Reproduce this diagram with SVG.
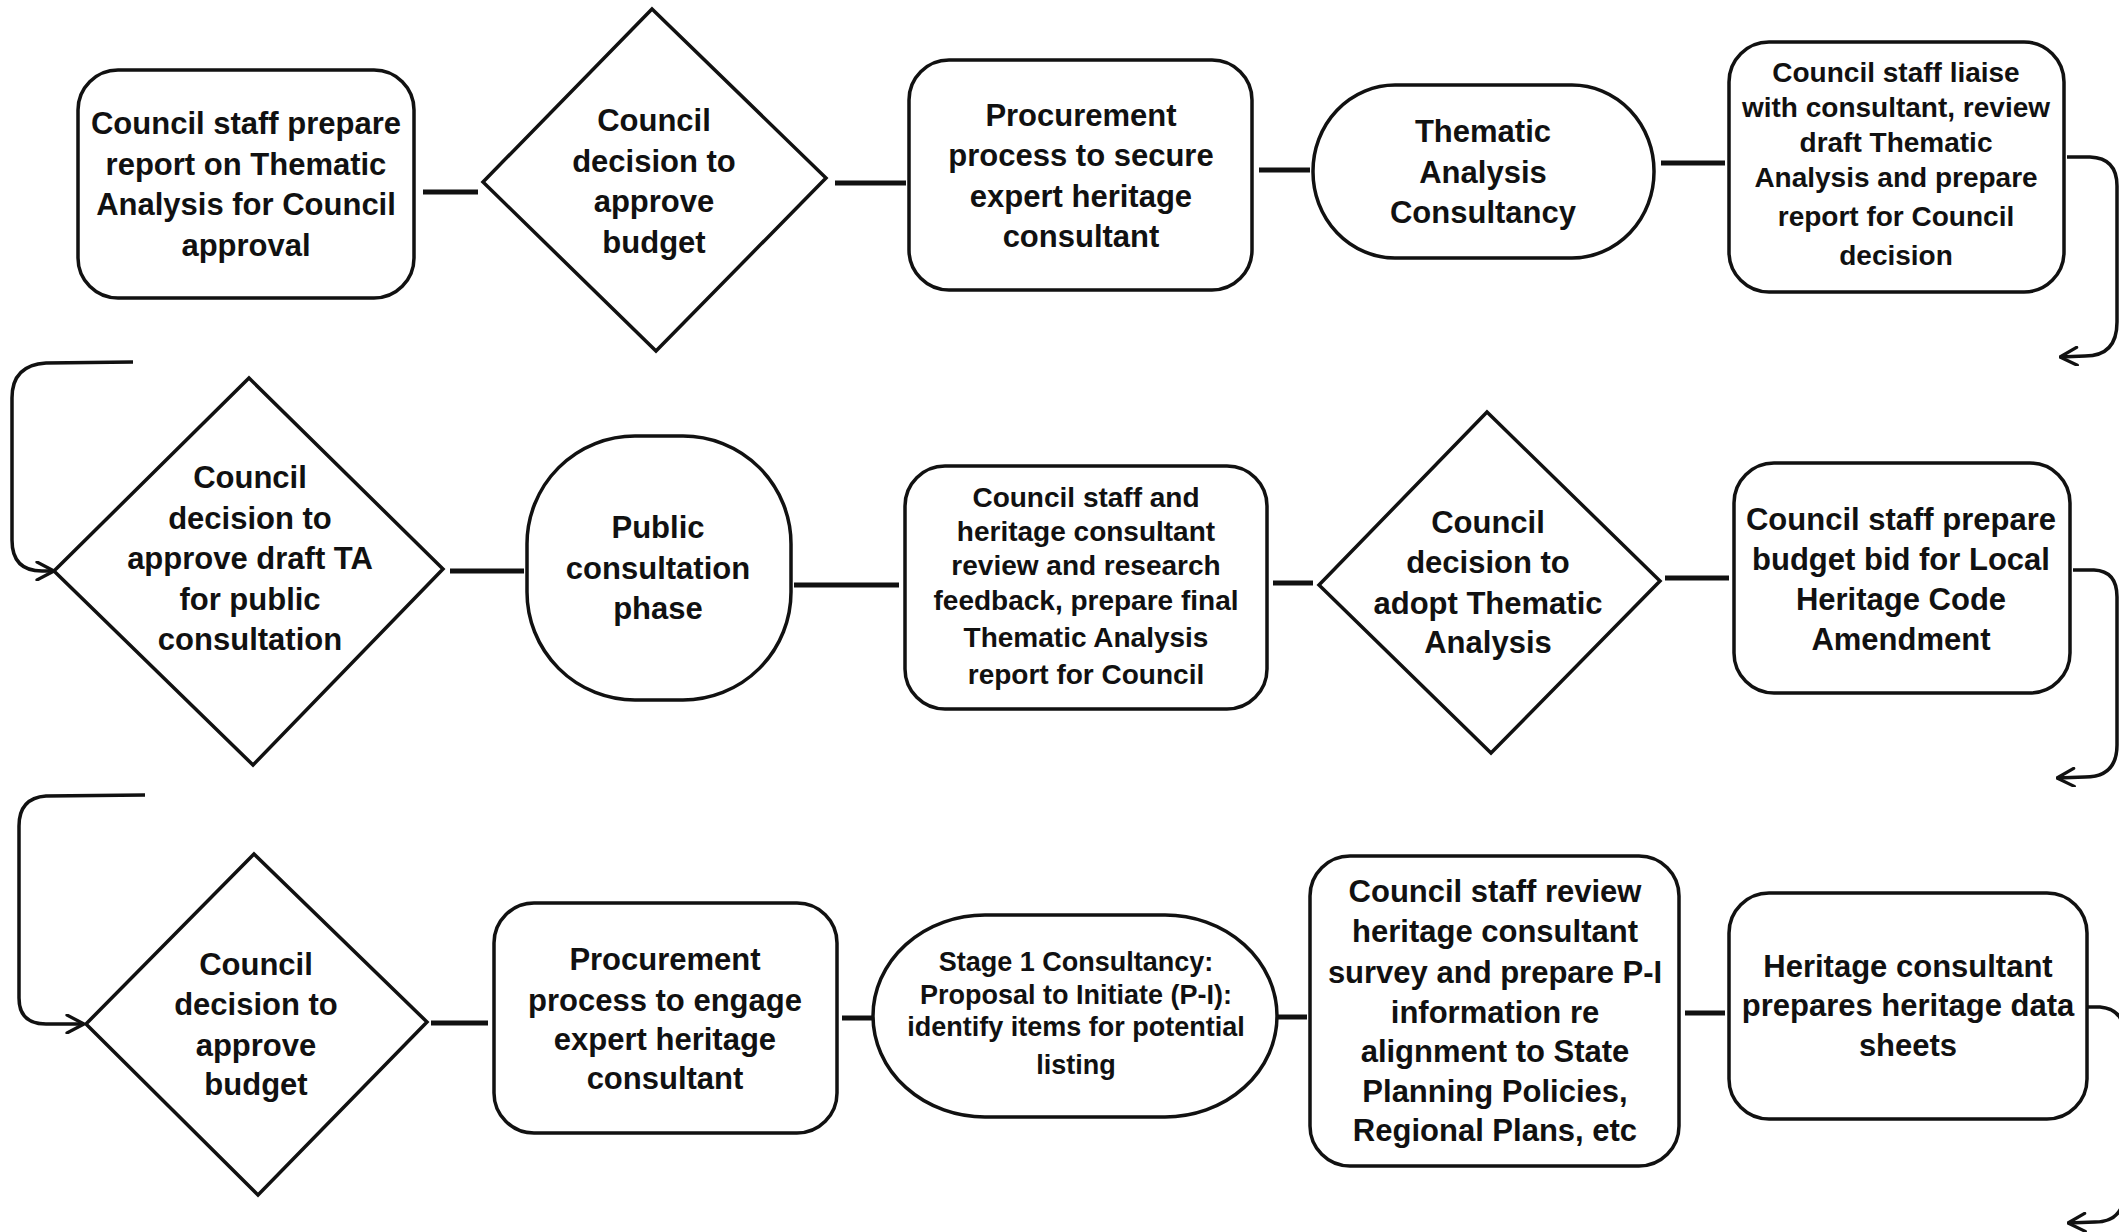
<svg xmlns="http://www.w3.org/2000/svg" width="2119" height="1232" viewBox="0 0 2119 1232">
<style>
.bg{fill:#ffffff}
.shape{fill:#ffffff;stroke:#111111;stroke-width:3.5}
.t{font-family:"Liberation Sans",Arial,Helvetica,sans-serif;font-weight:bold;font-size:31px;fill:#111111;text-anchor:middle}
.s28{font-size:28px}
.s27{font-size:27px}
.conn{stroke:#111111;stroke-width:5;fill:none;stroke-linecap:butt}
.loop{stroke:#111111;stroke-width:3.5;fill:none;stroke-linejoin:round}
</style>
<defs>
<marker id="arr" markerUnits="userSpaceOnUse" viewBox="0 0 20 20" refX="19" refY="10" markerWidth="20" markerHeight="20" orient="auto">
<path d="M2,1 L19,10 L2,19" fill="none" stroke="#111111" stroke-width="3.2" stroke-linecap="round" stroke-linejoin="round"/>
</marker>
</defs>
<rect class="bg" x="0" y="0" width="2119" height="1232"/>

<g id="connectors">
<line class="conn" x1="423" y1="192" x2="478" y2="192"/>
<line class="conn" x1="835" y1="183" x2="906" y2="183"/>
<line class="conn" x1="1259" y1="170" x2="1310" y2="170"/>
<line class="conn" x1="1661" y1="163" x2="1725" y2="163"/>
<path class="loop" d="M2067,157 L2090,157 Q2117,158 2117,186 L2117,322 Q2117,356 2085,356 L2060,357" marker-end="url(#arr)"/>
<path class="loop" d="M133,362 L46,363 Q12,365 12,398 L12,540 Q12,571 42,571 L54,571" marker-end="url(#arr)"/>
<line class="conn" x1="450" y1="571" x2="524" y2="571"/>
<line class="conn" x1="794" y1="585" x2="899" y2="585"/>
<line class="conn" x1="1273" y1="583" x2="1313" y2="583"/>
<line class="conn" x1="1665" y1="578" x2="1729" y2="578"/>
<path class="loop" d="M2073,570 L2094,570 Q2117,571 2117,597 L2117,745 Q2117,777 2085,777 L2057,778" marker-end="url(#arr)"/>
<path class="loop" d="M145,795 L46,796 Q19,798 19,826 L19,998 Q19,1024 46,1024 L84,1024" marker-end="url(#arr)"/>
<line class="conn" x1="431" y1="1023" x2="488" y2="1023"/>
<line class="conn" x1="842" y1="1018" x2="872" y2="1018"/>
<line class="conn" x1="1277" y1="1017" x2="1307" y2="1017"/>
<line class="conn" x1="1685" y1="1013" x2="1725" y2="1013"/>
<path class="loop" d="M2088,1007 L2100,1007 Q2124,1009 2125,1036 L2125,1192 Q2123,1222 2095,1222 L2068,1223" marker-end="url(#arr)"/>
</g>

<g id="n1">
<rect class="shape" x="78" y="70" width="336" height="228" rx="40"/>
<text class="t" x="246" y="134">Council staff prepare</text>
<text class="t" x="246" y="175">report on Thematic</text>
<text class="t" x="246" y="215">Analysis for Council</text>
<text class="t" x="246" y="256">approval</text>
</g>

<g id="d1">
<polygon class="shape" points="652,9 826,178 656,351 483,182"/>
<text class="t" x="654" y="131">Council</text>
<text class="t" x="654" y="172">decision to</text>
<text class="t" x="654" y="212">approve</text>
<text class="t" x="654" y="253">budget</text>
</g>

<g id="n3">
<rect class="shape" x="909" y="60" width="343" height="230" rx="40"/>
<text class="t" x="1081" y="126">Procurement</text>
<text class="t" x="1081" y="166">process to secure</text>
<text class="t" x="1081" y="207">expert heritage</text>
<text class="t" x="1081" y="247">consultant</text>
</g>

<g id="n4">
<rect class="shape" x="1313" y="85" width="341" height="173" rx="82" ry="86"/>
<text class="t" x="1483" y="142">Thematic</text>
<text class="t" x="1483" y="183">Analysis</text>
<text class="t" x="1483" y="223">Consultancy</text>
</g>

<g id="n5">
<rect class="shape" x="1729" y="42" width="335" height="250" rx="40"/>
<text class="t s28" x="1896" y="82">Council staff liaise</text>
<text class="t s28" x="1896" y="117">with consultant, review</text>
<text class="t s28" x="1896" y="152">draft Thematic</text>
<text class="t s28" x="1896" y="187">Analysis and prepare</text>
<text class="t s28" x="1896" y="226">report for Council</text>
<text class="t s28" x="1896" y="265">decision</text>
</g>

<g id="d2">
<polygon class="shape" points="249,378 443,569 253,765 54,571"/>
<text class="t" x="250" y="488">Council</text>
<text class="t" x="250" y="529">decision to</text>
<text class="t" x="250" y="569">approve draft TA</text>
<text class="t" x="250" y="610">for public</text>
<text class="t" x="250" y="650">consultation</text>
</g>

<g id="n7">
<rect class="shape" x="527" y="436" width="264" height="264" rx="108"/>
<text class="t" x="658" y="538">Public</text>
<text class="t" x="658" y="579">consultation</text>
<text class="t" x="658" y="619">phase</text>
</g>

<g id="n8">
<rect class="shape" x="905" y="466" width="362" height="243" rx="40"/>
<text class="t s28" x="1086" y="507">Council staff and</text>
<text class="t s28" x="1086" y="541">heritage consultant</text>
<text class="t s28" x="1086" y="575">review and research</text>
<text class="t s28" x="1086" y="610">feedback, prepare final</text>
<text class="t s28" x="1086" y="647">Thematic Analysis</text>
<text class="t s28" x="1086" y="684">report for Council</text>
</g>

<g id="d3">
<polygon class="shape" points="1487,412 1660,581 1491,753 1319,585"/>
<text class="t" x="1488" y="533">Council</text>
<text class="t" x="1488" y="573">decision to</text>
<text class="t" x="1488" y="614">adopt Thematic</text>
<text class="t" x="1488" y="653">Analysis</text>
</g>

<g id="n10">
<rect class="shape" x="1734" y="463" width="336" height="230" rx="40"/>
<text class="t" x="1901" y="530">Council staff prepare</text>
<text class="t" x="1901" y="570">budget bid for Local</text>
<text class="t" x="1901" y="610">Heritage Code</text>
<text class="t" x="1901" y="650">Amendment</text>
</g>

<g id="d4">
<polygon class="shape" points="254,854 427,1022 258,1195 86,1024"/>
<text class="t" x="256" y="975">Council</text>
<text class="t" x="256" y="1015">decision to</text>
<text class="t" x="256" y="1056">approve</text>
<text class="t" x="256" y="1095">budget</text>
</g>

<g id="n12">
<rect class="shape" x="494" y="903" width="343" height="230" rx="40"/>
<text class="t" x="665" y="970">Procurement</text>
<text class="t" x="665" y="1011">process to engage</text>
<text class="t" x="665" y="1050">expert heritage</text>
<text class="t" x="665" y="1089">consultant</text>
</g>

<g id="n13">
<rect class="shape" x="873" y="915" width="404" height="202" rx="112" ry="101"/>
<text class="t s27" x="1076" y="971">Stage 1 Consultancy:</text>
<text class="t s27" x="1076" y="1004">Proposal to Initiate (P-I):</text>
<text class="t s27" x="1076" y="1036">identify items for potential</text>
<text class="t s27" x="1076" y="1074">listing</text>
</g>

<g id="n14">
<rect class="shape" x="1310" y="856" width="369" height="310" rx="40"/>
<text class="t" x="1495" y="902">Council staff review</text>
<text class="t" x="1495" y="942">heritage consultant</text>
<text class="t" x="1495" y="983">survey and prepare P-I</text>
<text class="t" x="1495" y="1023">information re</text>
<text class="t" x="1495" y="1062">alignment to State</text>
<text class="t" x="1495" y="1102">Planning Policies,</text>
<text class="t" x="1495" y="1141">Regional Plans, etc</text>
</g>

<g id="n15">
<rect class="shape" x="1729" y="893" width="358" height="226" rx="40"/>
<text class="t" x="1908" y="977">Heritage consultant</text>
<text class="t" x="1908" y="1016">prepares heritage data</text>
<text class="t" x="1908" y="1056">sheets</text>
</g>
</svg>
